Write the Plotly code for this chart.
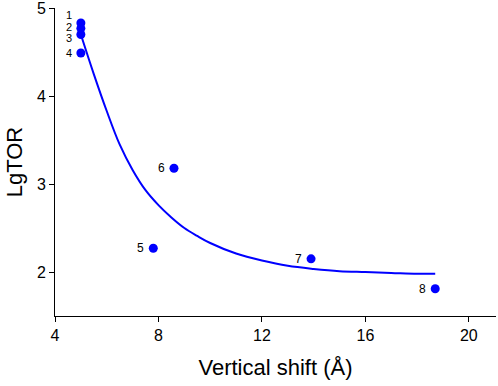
import plotly.graph_objects as go

# Data points
point_labels = ["1", "2", "3", "4", "5", "6", "7", "8"]
shift_x = [5.0, 5.0, 5.0, 5.0, 7.8, 8.6, 13.9, 18.7]
lgtor_y = [4.83, 4.77, 4.70, 4.49, 2.27, 3.18, 2.15, 1.81]

# Fitted curve
curve_x = [5.0, 5.5, 6.0, 6.5, 7.0, 7.5, 8.0, 8.5, 9.0, 9.5, 10.0, 11.0, 12.0, 13.0, 14.0, 15.0, 16.0, 17.0, 18.0, 18.7]
curve_y = [4.70, 4.25, 3.83, 3.45, 3.16, 2.93, 2.76, 2.62, 2.50, 2.41, 2.33, 2.21, 2.13, 2.07, 2.035, 2.01, 2.0, 1.99, 1.98, 1.98]

x_ticks = [4, 8, 12, 16, 20]
y_ticks = [2, 3, 4, 5]

label_yshift = [8, 1.5, -4, 0, 0, 0, 0, 0]
label_size = [11, 11, 11, 11, 12, 12, 12, 12]

fig = go.Figure()
fig.add_trace(go.Scatter(x=curve_x, y=curve_y, mode="lines",
                         line=dict(color="#0000ff", width=2, shape="spline"),
                         hoverinfo="skip", showlegend=False))
fig.add_trace(go.Scatter(x=shift_x, y=lgtor_y, mode="markers",
                         marker=dict(color="#0000ff", size=9),
                         showlegend=False))
for lab, px, py, ys, fs in zip(point_labels, shift_x, lgtor_y, label_yshift, label_size):
    fig.add_annotation(x=px, y=py, text=lab, showarrow=False, xanchor="right",
                       yanchor="middle", xshift=-8, yshift=ys, borderpad=0,
                       font=dict(family="Liberation Sans, Arial", size=fs, color="#000000"))

axis_font = dict(family="Liberation Sans, Arial", size=16, color="#000000")
fig.update_layout(
    width=498, height=386,
    margin=dict(l=55, r=2, t=8, b=70),
    paper_bgcolor="white", plot_bgcolor="white",
    font=dict(family="Liberation Sans, Arial", color="#000000"),
    xaxis=dict(range=[4, 21.05], tickvals=x_ticks, ticks="outside", ticklen=5,
               tickcolor="#000000", showline=True, linecolor="#000000", linewidth=1,
               showgrid=False, zeroline=False, tickfont=axis_font, automargin=False,
               ticklabeloverflow="allow",
               title=dict(text="Vertical shift (Å)", font=dict(size=22, family="Liberation Sans, Arial"), standoff=16)),
    yaxis=dict(range=[1.5, 5.001], tickvals=y_ticks, ticks="outside", ticklen=5,
               tickcolor="#000000", showline=True, linecolor="#000000", linewidth=1,
               showgrid=False, zeroline=False, tickfont=axis_font, automargin=False,
               ticklabeloverflow="allow",
               title=dict(text="LgTOR", font=dict(size=22, family="Liberation Sans, Arial"), standoff=8)),
)
fig.write_html("out.html", config={"displayModeBar": False},
               post_script="document.body.style.margin='0';")
